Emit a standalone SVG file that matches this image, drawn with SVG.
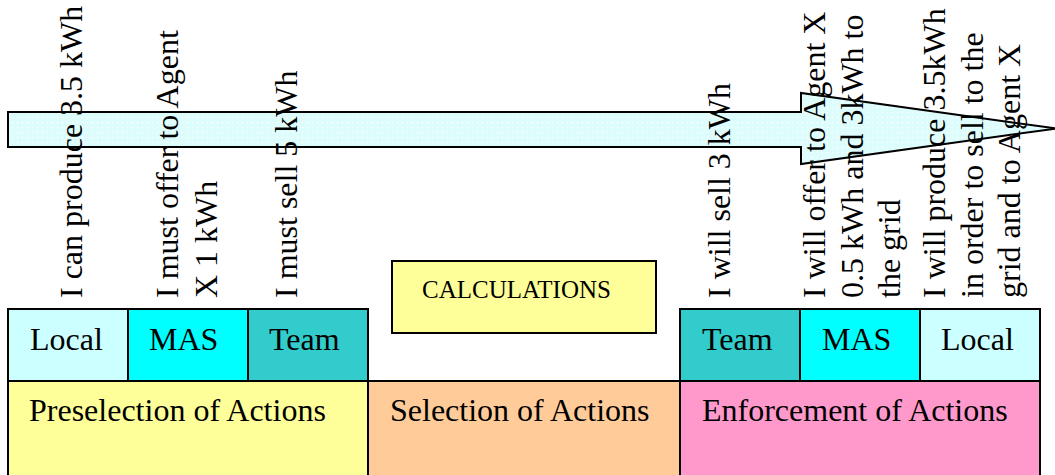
<svg xmlns="http://www.w3.org/2000/svg" width="1055" height="475" viewBox="0 0 1055 475">
  <style>
    .box { stroke: #000; stroke-width: 2; }
    .lbl { font-family: "Liberation Serif", "Times New Roman", serif; font-size: 32px; fill: #000; }
    .calc { font-family: "Liberation Serif", "Times New Roman", serif; font-size: 25px; fill: #000; }
    .local { fill: #CCFFFF; }
    .mas { fill: #00FFFF; }
    .team { fill: #33CCCC; }
    .presel { fill: #FFFF99; }
    .sel { fill: #FFCC99; }
    .enf { fill: #FF99CC; }
  </style>
  <defs>
    <!-- light dotted fill for the time arrow -->
    <pattern id="dots" width="5" height="5" patternUnits="userSpaceOnUse">
      <rect width="5" height="5" fill="#DDFCFC"/>
      <circle cx="2.5" cy="2.5" r="0.8" fill="#FFFFFF"/>
    </pattern>
  </defs>

  <!-- connectors: the big process arrow -->
  <g id="connectors">
    <polygon points="8,112 801,112 801,93 1056,128.5 801,164 801,147 8,147" fill="url(#dots)" stroke="#000" stroke-width="2" stroke-linejoin="miter"/>
  </g>

  <!-- phase blocks -->
  <g id="preselection">
    <rect class="box presel" x="8" y="381" width="360" height="100"/>
    <text class="lbl" x="29" y="421">Preselection of Actions</text>
  </g>
  <g id="selection">
    <rect class="box sel" x="368" y="381" width="312" height="100"/>
    <text class="lbl" x="390" y="421">Selection of Actions</text>
  </g>
  <g id="enforcement">
    <rect class="box enf" x="680" y="381" width="360" height="100"/>
    <text class="lbl" x="702" y="421">Enforcement of Actions</text>
  </g>

  <!-- left level boxes -->
  <g id="pre-local">
    <rect class="box local" x="8" y="309" width="120" height="72"/>
    <text class="lbl" x="30" y="350">Local</text>
  </g>
  <g id="pre-mas">
    <rect class="box mas" x="128" y="309" width="120" height="72"/>
    <text class="lbl" x="149" y="350">MAS</text>
  </g>
  <g id="pre-team">
    <rect class="box team" x="248" y="309" width="120" height="72"/>
    <text class="lbl" x="269" y="350">Team</text>
  </g>

  <!-- calculation step -->
  <g id="calculations">
    <rect class="box presel" x="392" y="261" width="264" height="72"/>
    <text class="calc" x="422" y="298">CALCULATIONS</text>
  </g>

  <!-- right level boxes -->
  <g id="enf-team">
    <rect class="box team" x="680" y="309" width="120" height="72"/>
    <text class="lbl" x="702" y="350">Team</text>
  </g>
  <g id="enf-mas">
    <rect class="box mas" x="800" y="309" width="120" height="72"/>
    <text class="lbl" x="822" y="350">MAS</text>
  </g>
  <g id="enf-local">
    <rect class="box local" x="920" y="309" width="120" height="72"/>
    <text class="lbl" x="941" y="350">Local</text>
  </g>

  <!-- vertical statements -->
  <g id="stmt-produce">
    <text class="lbl" transform="translate(82,298) rotate(-90)">I can produce 3.5 kWh</text>
  </g>
  <g id="stmt-offer">
    <text class="lbl" transform="translate(178,298) rotate(-90)"><tspan x="0" dy="0">I must offer to Agent</tspan><tspan x="0" dy="38.5">X 1 kWh</tspan></text>
  </g>
  <g id="stmt-sell">
    <text class="lbl" transform="translate(297,298) rotate(-90)">I must sell 5 kWh</text>
  </g>
  <g id="stmt-will-sell">
    <text class="lbl" transform="translate(730,298) rotate(-90)">I will sell 3 kWh</text>
  </g>
  <g id="stmt-will-offer">
    <text class="lbl" transform="translate(825,298) rotate(-90)"><tspan x="0" dy="0">I will offer to Agent X</tspan><tspan x="0" dy="37.5">0.5 kWh and 3kWh to</tspan><tspan x="0" dy="37.5">the grid</tspan></text>
  </g>
  <g id="stmt-will-produce">
    <text class="lbl" transform="translate(945,298) rotate(-90)"><tspan x="0" dy="0">I will produce 3.5kWh</tspan><tspan x="0" dy="37.5">in order to sell to the</tspan><tspan x="0" dy="37.5">grid and to Agent X</tspan></text>
  </g>
</svg>
